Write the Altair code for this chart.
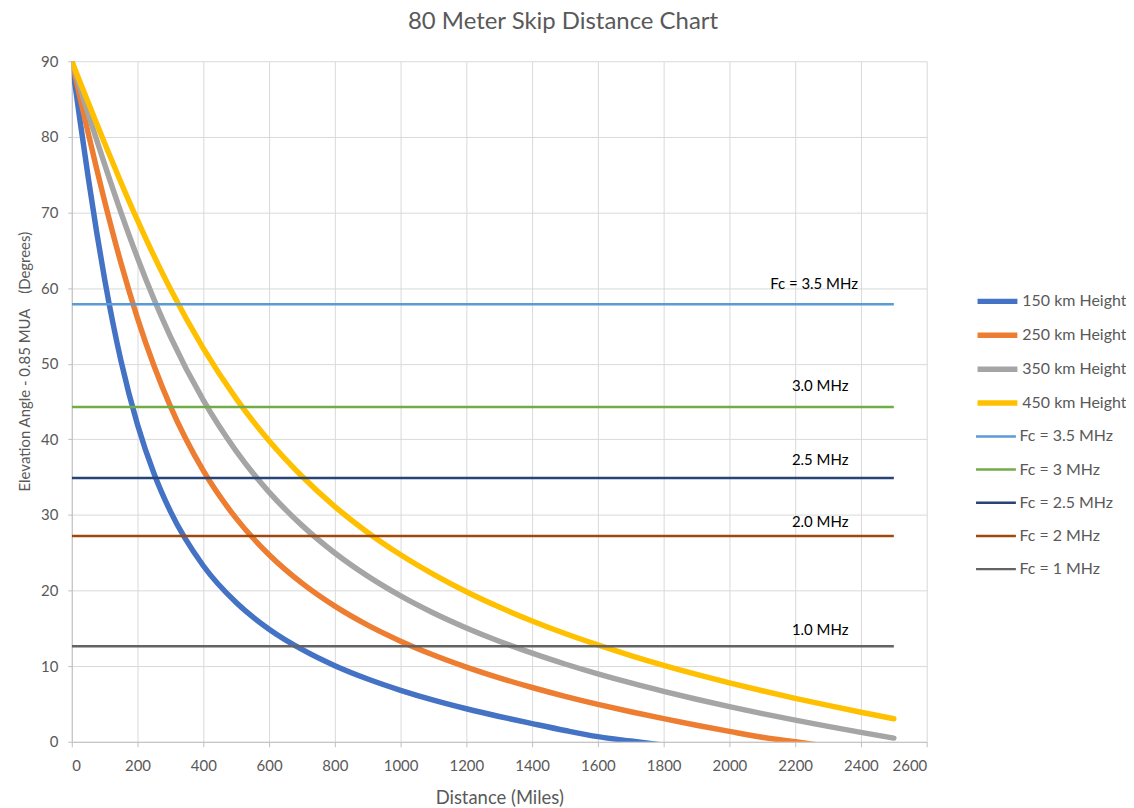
import altair as alt
import pandas as pd

# ---- data ----
distance = [0, 25, 50, 75, 100, 150, 200, 250, 300, 400, 500, 600, 700, 800, 900,
            1000, 1100, 1200, 1300, 1400, 1500, 1600, 1700, 1800, 1900, 2000,
            2100, 2200, 2300, 2400, 2500]

h150 = [90, 82.18, 74.64, 67.58, 61.15, 50.30, 41.93, 35.49, 30.47, 23.28, 18.41,
        14.89, 12.21, 10.06, 8.30, 6.81, 5.51, 4.37, 3.35, 2.41, 1.50, 0.68, 0.10, -0.45]
h250 = [90, 85.22, 80.50, 75.90, 71.47, 63.25, 56.00, 49.72, 44.36, 35.85, 29.54,
        24.74, 20.98, 17.94, 15.43, 13.31, 11.48, 9.88, 8.46, 7.18, 6.02, 4.96, 3.97,
        3.06, 2.19, 1.38, 0.61, 0.00, -0.60]
h350 = [90, 86.53, 83.08, 79.68, 76.35, 69.95, 63.99, 58.53, 53.59, 45.17, 38.44,
        33.02, 28.62, 24.97, 21.91, 19.30, 17.04, 15.06, 13.30, 11.72, 10.29, 8.98,
        7.78, 6.67, 5.63, 4.65, 3.73, 2.86, 2.04, 1.25, 0.49]
h450 = [90, 87.26, 84.53, 81.82, 79.15, 73.94, 68.96, 64.26, 59.87, 52.03, 45.39,
        39.81, 35.11, 31.11, 27.69, 24.73, 22.14, 19.85, 17.82, 15.98, 14.32, 12.81,
        11.41, 10.12, 8.92, 7.80, 6.75, 5.75, 4.81, 3.91, 3.05]

curve_names = ["150 km Height", "250 km Height", "350 km Height", "450 km Height"]
curve_values = [h150, h250, h350, h450]
curve_colors = ["#4472C4", "#ED7D31", "#A5A5A5", "#FFC000"]

fc_names = ["Fc = 3.5 MHz", "Fc = 3 MHz", "Fc = 2.5 MHz", "Fc = 2 MHz", "Fc = 1 MHz"]
fc_angles = [57.86, 44.27, 34.89, 27.22, 12.64]
fc_span = [0, 2500]
fc_colors = ["#5B9BD5", "#70AD47", "#264478", "#9E480E", "#636363"]

ann_text = ["Fc = 3.5 MHz", "3.0 MHz", "2.5 MHz", "2.0 MHz", "1.0 MHz"]
ann_x = [2124, 2190, 2190, 2190, 2190]
ann_y = [60.6, 47.0, 37.3, 29.1, 14.8]

# ---- tables ----
rows = []
for name, vals in zip(curve_names, curve_values):
    for d, v in zip(distance, vals):
        rows.append({"series": name, "distance": d, "angle": v})
curves = pd.DataFrame(rows)

fc_rows = []
for name, a in zip(fc_names, fc_angles):
    for d in fc_span:
        fc_rows.append({"series": name, "distance": d, "angle": a})
fcs = pd.DataFrame(fc_rows)

ann = pd.DataFrame({"text": ann_text, "distance": ann_x, "angle": ann_y})

FONT = "Lato"
GREY = "#595959"

x = alt.X("distance:Q",
          scale=alt.Scale(domain=[0, 2600], nice=False),
          axis=alt.Axis(values=list(range(0, 2601, 200)), title="Distance (Miles)",
                        format="d", labelPadding=12, titlePadding=15, tickSize=5,
                        titleFontSize=18.5))
y = alt.Y("angle:Q",
          scale=alt.Scale(domain=[0, 90], nice=False),
          axis=alt.Axis(values=list(range(0, 91, 10)),
                        title="Elevation Angle - 0.85 MUA\u00a0\u00a0\u00a0\u00a0(Degrees)",
                        labelPadding=10, titlePadding=8, tickSize=4, titleY=301))

common_legend = dict(title=None, orient="none", symbolType="stroke", symbolSize=1600,
                     labelFontSize=16, labelFont=FONT, labelColor=GREY,
                     labelOffset=2, labelLimit=200)

curve_color = alt.Color("series:N",
                        scale=alt.Scale(domain=curve_names, range=curve_colors),
                        legend=alt.Legend(legendX=906, legendY=218, rowPadding=0,
                                          symbolStrokeWidth=5.5, **common_legend))
fc_color = alt.Color("series:N",
                     scale=alt.Scale(domain=fc_names, range=fc_colors),
                     legend=alt.Legend(legendX=906, legendY=355, rowPadding=3.3,
                                       symbolStrokeWidth=2.5, **common_legend))

curve_layer = alt.Chart(curves).mark_line(interpolate="monotone", clip=True,
                                          strokeCap="round", strokeWidth=5.5).encode(
    x=x, y=y, color=curve_color, detail="series:N")

fc_layer = alt.Chart(fcs).mark_line(clip=True, strokeWidth=2.5).encode(
    x=x, y=y, color=fc_color, detail="series:N")

text_layer = alt.Chart(ann).mark_text(align="left", baseline="middle", fontSize=15,
                                      font=FONT, color="#000000").encode(
    x="distance:Q", y="angle:Q", text="text:N")

chart = alt.layer(curve_layer, fc_layer, text_layer).resolve_scale(
    color="independent"
).properties(
    width=858, height=683,
    title=alt.TitleParams("80 Meter Skip Distance Chart", fontSize=24, font=FONT,
                          fontWeight="normal", color=GREY, dx=64, offset=20),
    autosize=alt.AutoSizeParams(type="none"),
    padding={"left": 64, "top": 52, "right": 200, "bottom": 64},
).configure_view(stroke=None).configure_axis(
    labelFont=FONT, labelFontSize=15, labelColor=GREY,
    titleFont=FONT, titleFontSize=15, titleColor=GREY, titleFontWeight="normal",
    domainColor="#bfbfbf", tickColor="#bfbfbf", gridColor="#d9d9d9", gridWidth=1,
)

chart.save("out.html", embed_options={"renderer": "svg", "actions": False})
